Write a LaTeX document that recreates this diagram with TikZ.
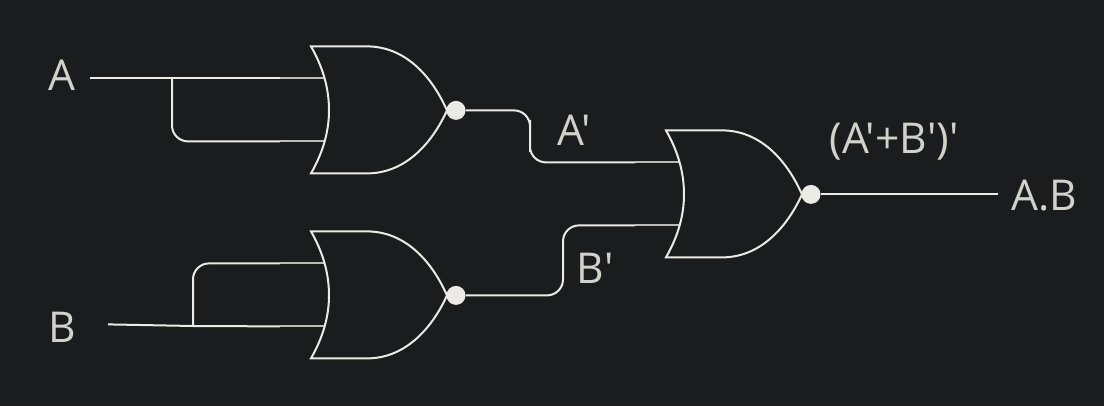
\documentclass[tikz,border=0pt]{standalone}
\usepackage{fontspec}
\usepackage{xcolor}
\usepackage{tikz}
\newfontfamily\gatefont{Open Sans}
\definecolor{boardbg}{HTML}{1A1C1E}
\definecolor{wirecol}{HTML}{ECEAE5}
\definecolor{stubcol}{HTML}{BDBBB6}
\definecolor{labelcol}{HTML}{D3D1CB}
\begin{document}
\begin{tikzpicture}[
  x=1pt,y=-1pt,
  wire/.style={draw=wirecol,line width=2pt},
  elbow/.style={wire,rounded corners=16pt},
  stub/.style={draw=stubcol,line width=2pt},
  bubble/.style={circle,fill=wirecol,inner sep=0pt,minimum size=19pt},
  lab/.style={text=labelcol,inner sep=0pt,font=\gatefont\fontsize{42.5}{42.5}\selectfont},
  pics/norgate/.style={code={
    \draw[stub] (-31,32) coordinate (-in1) -- (14,32);
    \draw[stub] (-31,95) coordinate (-in2) -- (14,95);
    \draw[wire,line join=miter] (0,0) .. controls (12,21) and (18,42) .. (18,64) .. controls (18,85) and (12,106) .. (0,127)
      -- (56,127) .. controls (93,127) and (120,99) .. (136,64) .. controls (120,28) and (93,0) .. (56,0) -- cycle;
    \node[bubble] (-bub) at (145,64) {};
  }}
]
\path[use as bounding box,fill=boardbg] (0,0) rectangle (1104,406);
\pic (g1) at (311,46.4) {norgate};
\pic (g2) at (311,231.4) {norgate};
\pic (g3) at (666,130.4) {norgate};
\node[lab] (a) at (62,75) {A};
\node[lab] (b) at (62,327) {B};
\node[lab] (an) at (574,130) {A'};
\node[lab] (bn) at (595,268) {B'};
\node[lab] (nor) at (894,142) {(A'+B')'};
\node[lab] (res) at (1044,196) {A.B};
\coordinate (astart) at (90,78.4);
\coordinate (atap) at (172,78.4);
\coordinate (bstart) at (108,324.4);
\coordinate (btap) at (193,326);
\coordinate (midA) at (530,136);
\coordinate (midB) at (563,260);
\coordinate (outend) at (998,194.4);
\draw[wire] (astart)--(g1-in1);
\draw[elbow] (atap)|-(g1-in2);
\draw[wire] (bstart)--(btap)--(g2-in2);
\draw[elbow] (btap)|-(g2-in1);
\draw[elbow] (g1-bub.east)-|(midA)|-(g3-in1);
\draw[elbow] (g2-bub.east)-|(midB)|-(g3-in2);
\draw[wire] (g3-bub.east)--(outend);
\end{tikzpicture}
\end{document}
